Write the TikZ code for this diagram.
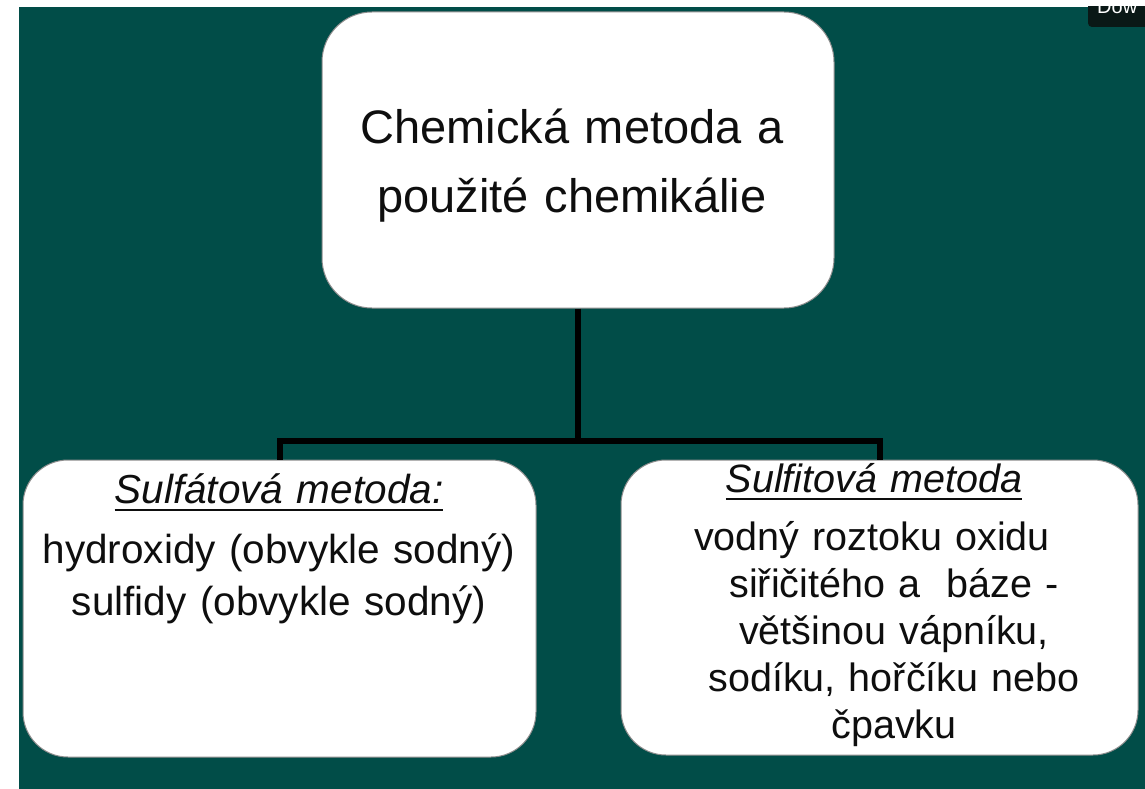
\documentclass[tikz,border=0pt]{standalone}
\usepackage{fontspec}
\setmainfont{Liberation Sans}
\definecolor{slideteal}{RGB}{1,77,72}
\definecolor{inkgray}{RGB}{14,14,14}
\definecolor{dowdark}{RGB}{10,24,22}
\newsavebox{\headbox}
\newcommand{\headline}[1]{\leavevmode\sbox{\headbox}{\itshape #1}\rlap{\rule[-8pt]{\wd\headbox}{2pt}}\usebox{\headbox}}
\begin{document}
\begin{tikzpicture}[x=1pt,y=-1pt,
  box_style/.style={draw=black!45,line width=1pt,fill=white,rounded corners=45pt,inner sep=0pt},
  text_style/.style={inner sep=0pt,text=inkgray,align=center,anchor=base},
  link_style/.style={draw=black,line width=6pt}]
  \useasboundingbox (0,0) rectangle (1145,789);
  \fill[slideteal] (19,7) rectangle (1145,789);
  \begin{scope}
    \clip (1088,7) rectangle (1145,27);
    \fill[dowdark,rounded corners=4pt] (1088,-10) rectangle (1160,27);
    \node[anchor=base west,inner sep=0pt,text=white,font=\fontsize{20}{24}\selectfont] (dow) at (1097,14) {Dow};
  \end{scope}
  \draw
    (578,160) node[box_style,minimum width=512pt,minimum height=296pt,rounded corners=50pt] (title){}
    (279.5,608.5) node[box_style,minimum width=513pt,minimum height=297pt] (sulfat){}
    (879.5,607.5) node[box_style,minimum width=517pt,minimum height=295pt] (sulfit){};
  \coordinate (fork) at (578,441);
  \draw[link_style] (title) -- (fork);
  \draw[link_style] (fork) -| (sulfat);
  \draw[link_style] (fork) -| (sulfit);
  \draw
    (572,143) node[text_style,text width=500pt,font=\fontsize{47}{69}\selectfont] (title_text){Chemická metoda a\\použité chemikálie}
    (279,503) node[text_style,text width=505pt,font=\fontsize{40.5}{52}\selectfont] (sulfat_text){\headline{Sulfátová metoda:}\\[8pt]hydroxidy (obvykle sodný)\\sulfidy (obvykle sodný)}
    (874,492) node[text_style,text width=505pt,font=\fontsize{39.5}{47}\selectfont] (sulfit_head){\headline{Sulfitová metoda}}
    (894,550) node[text_style,text width=505pt,font=\fontsize{39.5}{47}\selectfont] (sulfit_text){vodný roztoku oxidu\kern44pt\\siřičitého a\ \ báze -\\většinou vápníku,\\sodíku, hořčíku nebo\\čpavku};
\end{tikzpicture}
\end{document}
